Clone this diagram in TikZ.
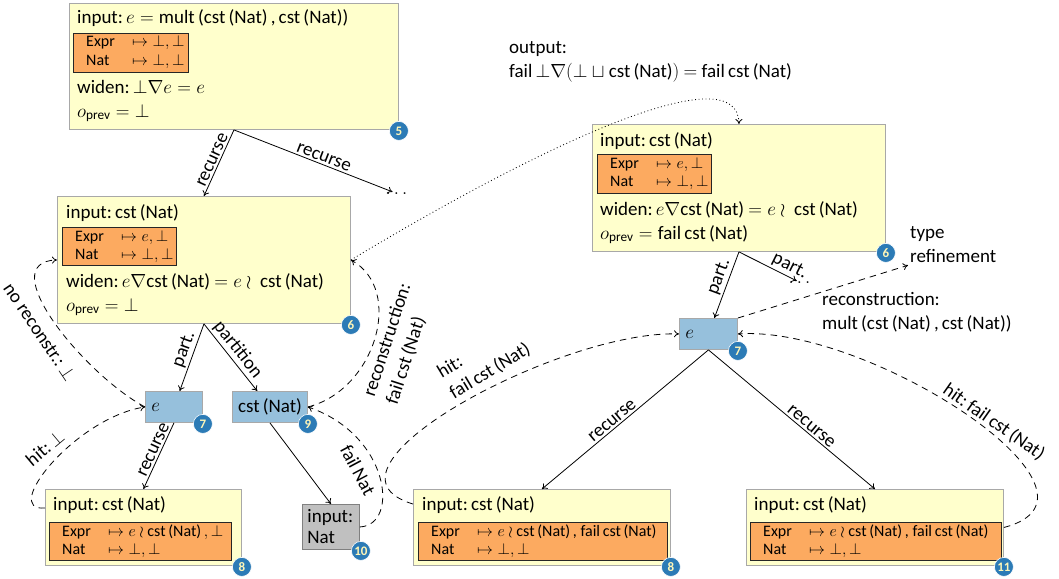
\documentclass[tikz,border=0pt]{standalone}
\usepackage{fix-cm}
\usepackage{amsmath}
\usepackage[no-math]{fontspec}
\setmainfont{Carlito}
\usetikzlibrary{calc,arrows.meta}
\definecolor{ybfill}{HTML}{FFFFCC}
\definecolor{ybdraw}{HTML}{A8A8A8}
\definecolor{tblfill}{HTML}{FCAA60}
\definecolor{bfill}{HTML}{96C0DC}
\definecolor{gfill}{HTML}{C0C0C0}
\definecolor{badgeblue}{HTML}{2C7BB6}
\definecolor{badgetext}{HTML}{FFF6B8}
\newcommand\maprows[3]{%
  \node[rowt] (#1e) at ($(#1.north west)+(13,14)$) {Expr};
  \node[rowt] (#1ev) at ($(#1.north west)+(59,14)$) {#2};
  \node[rowt] (#1n) at ($(#1.north west)+(13,32)$) {Nat};
  \node[rowt] (#1nv) at ($(#1.north west)+(59,32)$) {#3};}
\tikzset{
  ybox/.style={draw=ybdraw, fill=ybfill, line width=0.9pt, inner sep=0pt, anchor=north west},
  tbl/.style={draw=black!85, fill=tblfill, line width=0.9pt, inner sep=0pt, anchor=north west},
  bbox/.style={draw=ybdraw, fill=bfill, line width=0.9pt, inner sep=0pt, anchor=north west, minimum height=31pt},
  gbox/.style={draw=gray, fill=gfill, line width=0.9pt, inner xsep=5pt, inner ysep=0pt, anchor=north west, minimum height=45pt, text width=47pt, align=left, font=\fontsize{19}{21}\selectfont},
  txt/.style={inner sep=0pt, anchor=base west},
  rowt/.style={inner sep=0pt, anchor=base west, font=\fontsize{16}{19}\selectfont},
  badge/.style={circle, fill=badgeblue, draw=white, line width=0.6pt, minimum size=19pt, inner sep=0pt, text=badgetext, font=\fontsize{13}{13}\selectfont\bfseries},
  conn/.style={line width=0.8pt, ->},
  dsh/.style={conn, dash pattern=on 6.5pt off 5pt},
  dtt/.style={conn, dash pattern=on 0.9pt off 2.6pt},
  elab/.style={inner sep=2pt},
  flab/.style={inner sep=1pt},
}
\begin{document}
\begin{tikzpicture}[x=1pt,y=-1pt, font=\fontsize{19}{24}\selectfont, >={To[length=5pt,width=7pt]}]
\useasboundingbox (0,0) rectangle (1059,578);

% ---------- box 5 ----------
\node[ybox, minimum width=329pt, minimum height=126pt] (b5) at (69,3) {};
\node[txt] (b5i) at ($(b5.north west)+(8,21)$) {input:\,$e={}$mult\,(cst\,(Nat)\,,\,cst\,(Nat))};
\node[tbl, minimum width=115pt, minimum height=39pt] (b5t) at ($(b5.north west)+(4,30)$) {};
\maprows{b5t}{$\mapsto\bot,\bot$}{$\mapsto\bot,\bot$}
\node[txt] (b5w) at ($(b5.north west)+(8,90)$) {widen:\,$\bot\nabla e = e$};
\node[txt] (b5o) at ($(b5.north west)+(8,114)$) {$o_{\text{prev}} = \bot$};

% ---------- box 6 (left) ----------
\node[ybox, minimum width=293pt, minimum height=127pt] (b6) at (57,196) {};
\node[txt] (b6i) at ($(b6.north west)+(9,22)$) {input:\,cst\,(Nat)};
\node[tbl, minimum width=114pt, minimum height=38pt] (b6t) at ($(b6.north west)+(5,31)$) {};
\maprows{b6t}{$\mapsto e,\bot$}{$\mapsto\bot,\bot$}
\node[txt] (b6w) at ($(b6.north west)+(9,91)$) {widen:\,$e\nabla$cst\,(Nat) $= e\wr{}$ cst\,(Nat)};
\node[txt] (b6o) at ($(b6.north west)+(9,115)$) {$o_{\text{prev}} = \bot$};

% ---------- box 6 (right) ----------
\node[ybox, minimum width=293pt, minimum height=127pt] (b6r) at (592,124) {};
\node[txt] (b6ri) at ($(b6r.north west)+(8,22)$) {input:\,cst\,(Nat)};
\node[tbl, minimum width=114pt, minimum height=39pt] (b6rt) at ($(b6r.north west)+(5,30)$) {};
\maprows{b6rt}{$\mapsto e,\bot$}{$\mapsto\bot,\bot$}
\node[txt] (b6rw) at ($(b6r.north west)+(8,91)$) {widen:\,$e\nabla$cst\,(Nat) $= e\wr{}$ cst\,(Nat)};
\node[txt] (b6ro) at ($(b6r.north west)+(8,115)$) {$o_{\text{prev}} = {}$fail\,cst\,(Nat)};

% ---------- small nodes ----------
\node[bbox, minimum width=57pt, text width=45pt, align=left, inner xsep=6pt] (n7) at (145,391) {$e$};
\node[bbox, minimum width=75pt] (n9) at (232,391) {cst\,(Nat)};
\node[gbox] (n10) at (302,504) {input:\\Nat};
\node[bbox, minimum width=58pt, text width=46pt, align=left, inner xsep=6pt] (n7r) at (679,318) {$e$};

% ---------- box 8 (left) ----------
\node[ybox, minimum width=196pt, minimum height=76pt] (n8) at (45,489) {};
\node[txt] (n8i) at ($(n8.north west)+(8,21)$) {input:\,cst\,(Nat)};
\node[tbl, minimum width=182pt, minimum height=38pt] (n8t) at ($(n8.north west)+(4,33)$) {};
\maprows{n8t}{$\mapsto e\wr{}$cst\,(Nat)$\,,\bot$}{$\mapsto\bot,\bot$}

% ---------- box 8 (right) ----------
\node[ybox, minimum width=257pt, minimum height=76pt] (n8r) at (413,489) {};
\node[txt] (n8ri) at ($(n8r.north west)+(9,21)$) {input:\,cst\,(Nat)};
\node[tbl, minimum width=249pt, minimum height=38pt] (n8rt) at ($(n8r.north west)+(5,33)$) {};
\maprows{n8rt}{$\mapsto e\wr{}$cst\,(Nat)\,, fail\,cst\,(Nat)}{$\mapsto\bot,\bot$}

% ---------- box 11 ----------
\node[ybox, minimum width=257pt, minimum height=76pt] (n11) at (746,489) {};
\node[txt] (n11i) at ($(n11.north west)+(8,21)$) {input:\,cst\,(Nat)};
\node[tbl, minimum width=251pt, minimum height=38pt] (n11t) at ($(n11.north west)+(4,33)$) {};
\maprows{n11t}{$\mapsto e\wr{}$cst\,(Nat)\,, fail\,cst\,(Nat)}{$\mapsto\bot,\bot$}

% ---------- free labels ----------
\node[inner sep=1pt] (d1) at (398,194) {$\dots$};
\node[inner sep=1pt] (d2) at (801,283) {$\dots$};
\node[anchor=west, align=left, inner sep=0pt] (outl) at (509,62) {output:\\fail\,$\bot\nabla(\bot\sqcup{}$cst\,(Nat)$)$ $=$ fail\,cst\,(Nat)};
\node[anchor=west, align=left, inner sep=2pt] (tr) at (908,245) {type\\refinement};
\node[anchor=west, align=left, inner sep=0pt] (lrm) at (822,312) {reconstruction:\\mult\,(cst\,(Nat)\,,\,cst\,(Nat))};
\node[flab, rotate=-56] (lnr) at (40,332) {no reconstr.:\,$\bot$};
\node[flab, rotate=40] (lh1) at (45,448) {hit:\,$\bot$};
\node[flab, rotate=72, align=left] (lrc) at (399,344) {reconstruction:\\fail\,cst\,(Nat)};
\node[flab, rotate=-62] (lfn) at (358,470) {fail\,Nat};
\node[flab, rotate=31, align=left] (lh2) at (484,361) {hit:\\fail\,cst\,(Nat)};
\node[flab, rotate=-35] (lh3) at (994,422) {hit:\,fail\,cst\,(Nat)};

% ---------- tree edges ----------
\draw[conn] (b5.south) -- node[elab, sloped, above, pos=0.5] (e1) {recurse} (b6.north);
\draw[conn] (b5.south) -- node[elab, sloped, above, pos=0.55] (e2) {recurse} (d1);
\draw[conn] (b6.south) -- node[elab, sloped, above, pos=0.43] (e3) {part.} (n7);
\draw[conn] (b6.south) -- node[elab, sloped, above, pos=0.48] (e4) {partition} (n9);
\draw[conn] (n7.south) -- node[elab, sloped, above, pos=0.45] (e5) {recurse} (n8.north);
\draw[conn] (n9.south) -- (n10.north);
\draw[conn] (b6r.south) -- node[elab, sloped, above, pos=0.43] (e6) {part.} (n7r);
\draw[conn] (b6r.south) -- node[elab, sloped, above, pos=0.8] (e7) {part.} (d2);
\draw[conn] (n7r.south) -- node[elab, sloped, above, pos=0.55] (e8) {recurse} (n8r.north);
\draw[conn] (n7r.south) -- node[elab, sloped, above, pos=0.59] (e9) {recurse} (n11.north);

% ---------- dashed / dotted ----------
\draw[dsh] (n7.west) .. controls (85,375) and (-8,262) .. (b6.west);
\draw[dsh] ($(n8.north west)+(0,19)$) .. controls (0,512) and (75,418) .. (n7.west);
\draw[dsh] (n9.east) .. controls (375,390) and (405,290) .. (b6.east);
\draw[dsh] (n10.east) .. controls (400,525) and (390,435) .. (n9.east);
\draw[dsh] ($(n8r.north west)+(0,15)$) .. controls (300,470) and (560,330) .. (n7r.west);
\draw[dsh] (n11.east) .. controls (1130,495) and (870,325) .. (n7r.east);
\draw[dsh] (n7r.north east) -- (tr.south west);
\draw[dtt] (b6.east) .. controls (550,140) and (738,55) .. (b6r.north);

% ---------- badges ----------
\node[badge] (c5) at ($(b5.south east)+(0,1)$) {5};
\node[badge] (c6) at ($(b6.south east)+(0,1)$) {6};
\node[badge] (c6r) at ($(b6r.south east)+(0,1)$) {6};
\node[badge] (c7) at ($(n7.south east)+(0,1)$) {7};
\node[badge] (c9) at ($(n9.south east)+(0,1)$) {9};
\node[badge] (c10) at ($(n10.south east)+(1,1)$) {10};
\node[badge] (c7r) at ($(n7r.south east)+(0,1)$) {7};
\node[badge] (c8) at ($(n8.south east)+(0,1)$) {8};
\node[badge] (c8r) at ($(n8r.south east)+(0,1)$) {8};
\node[badge] (c11) at ($(n11.south east)+(0,1)$) {11};
\end{tikzpicture}
\end{document}
